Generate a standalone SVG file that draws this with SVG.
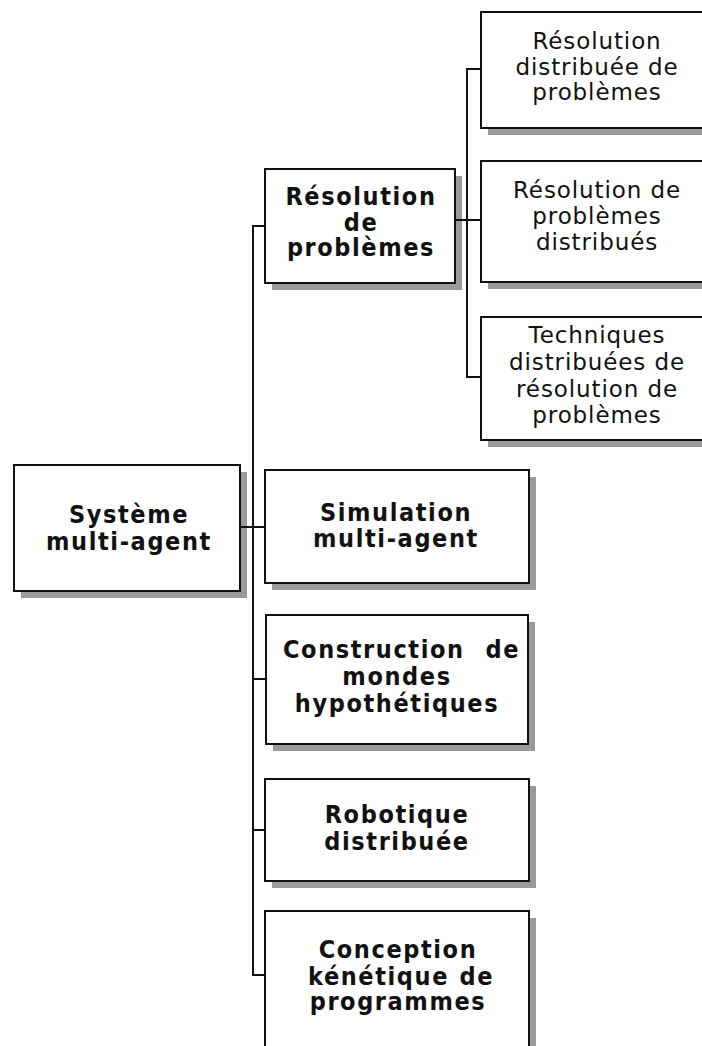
<svg xmlns="http://www.w3.org/2000/svg" width="702" height="1046" viewBox="0 0 702 1046">
<style>
.sh{fill:#9a9a9a}
.bx{fill:#fff;stroke:#111;stroke-width:2}
.t{font-family:"DejaVu Sans Condensed","DejaVu Sans",Verdana,sans-serif;font-stretch:condensed;font-weight:bold;font-size:25px;letter-spacing:1.6px;fill:#111;text-anchor:middle}
.r{font-family:"DejaVu Sans",Verdana,sans-serif;font-size:23px;letter-spacing:0.9px;fill:#111;text-anchor:middle}
.c{fill:none;stroke:#111;stroke-width:2}
</style>
<rect width="702" height="1046" fill="#fff"/>
<g id="n-sma">
<rect class="sh" x="21" y="472" width="226" height="126"/>
<rect class="bx" x="14" y="465" width="226" height="126"/>
<text class="t" x="129" y="523">Système</text>
<text class="t" x="129" y="550">multi-agent</text>
</g>
<g id="n-rp">
<rect class="sh" x="272" y="176" width="190" height="114"/>
<rect class="bx" x="265" y="169" width="190" height="114"/>
<text class="t" x="361" y="205">Résolution</text>
<text class="t" x="361" y="231">de</text>
<text class="t" x="361" y="256">problèmes</text>
</g>
<g id="n-rdp">
<rect class="sh" x="488" y="19" width="230" height="116"/>
<rect class="bx" x="481" y="12" width="230" height="116"/>
<text class="r" x="597" y="49">Résolution</text>
<text class="r" x="597" y="75">distribuée de</text>
<text class="r" x="597" y="100">problèmes</text>
</g>
<g id="n-rpd">
<rect class="sh" x="488" y="168" width="230" height="121"/>
<rect class="bx" x="481" y="161" width="230" height="121"/>
<text class="r" x="597" y="198">Résolution de</text>
<text class="r" x="597" y="224">problèmes</text>
<text class="r" x="597" y="250">distribués</text>
</g>
<g id="n-tdr">
<rect class="sh" x="488" y="324" width="230" height="123"/>
<rect class="bx" x="481" y="317" width="230" height="123"/>
<text class="r" x="597" y="343">Techniques</text>
<text class="r" x="597" y="370">distribuées de</text>
<text class="r" x="597" y="397">résolution de</text>
<text class="r" x="597" y="423">problèmes</text>
</g>
<g id="n-sim">
<rect class="sh" x="272" y="477" width="264" height="113"/>
<rect class="bx" x="265" y="470" width="264" height="113"/>
<text class="t" x="396" y="521">Simulation</text>
<text class="t" x="396" y="547">multi-agent</text>
</g>
<g id="n-cmh">
<rect class="sh" x="273" y="622" width="262" height="129"/>
<rect class="bx" x="266" y="615" width="262" height="129"/>
<text class="t" x="283" y="658" style="text-anchor:start">Construction</text>
<text class="t" x="520" y="658" style="text-anchor:end">de</text>
<text class="t" x="397" y="685">mondes</text>
<text class="t" x="397" y="712">hypothétiques</text>
</g>
<g id="n-rob">
<rect class="sh" x="272" y="786" width="264" height="102"/>
<rect class="bx" x="265" y="779" width="264" height="102"/>
<text class="t" x="397" y="823">Robotique</text>
<text class="t" x="397" y="850">distribuée</text>
</g>
<g id="n-ckp">
<rect class="sh" x="272" y="918" width="264" height="140"/>
<rect class="bx" x="265" y="911" width="264" height="140"/>
<text class="t" x="398" y="958">Conception</text>
<text class="t" x="308" y="985" style="text-anchor:start">kénétique</text>
<text class="t" x="494" y="985" style="text-anchor:end">de</text>
<text class="t" x="398" y="1010">programmes</text>
</g>
<g id="connectors">
<path class="c" d="M265,226 H253 V975 H265"/>
<path class="c" d="M240,527 H265"/>
<path class="c" d="M253,679 H266"/>
<path class="c" d="M253,830 H265"/>
<path class="c" d="M455,220 H481"/>
<path class="c" d="M481,69 H467 V377 H481"/>
</g>
</svg>
